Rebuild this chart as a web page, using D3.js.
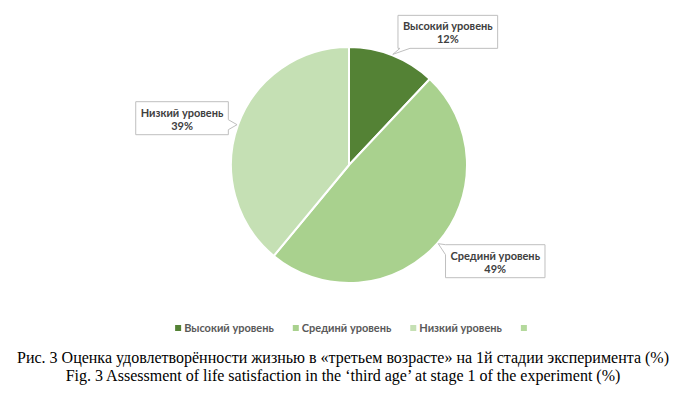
<!DOCTYPE html>
<meta charset="utf-8">
<script src="https://d3js.org/d3.v7.min.js"></script>
<style>
  body { margin: 0; background: #fff; }
</style>
<div id="chart"></div>
<script>

// data
var categories = ["Высокий уровень", "Срединй уровень", "Низкий уровень", ""];
var values = [12, 49, 39, 0];
var colors = ["#548235", "#A9D18E", "#C5E0B4", "#B4D99C"];
var captionLines = [
  "Рис. 3 Оценка удовлетворённости жизнью в «третьем возрасте» на 1й стадии эксперимента (%)",
  "Fig. 3 Assessment of life satisfaction in the \u2018third age\u2019 at stage 1 of the experiment (%)"
];

// label box offsets from the slice edge (layout only)
var labelOffsets = [[55, -22], [57, 18], [-55, -6]];

var width = 680, height = 397;
var cx = 349, cy = 165, radius = 118;

var svg = d3.select("#chart").append("svg")
  .attr("width", width)
  .attr("height", height);

var pieData = d3.pie().sort(null).value(function(d) { return d.value; })(
  categories.map(function(c, i) { return {name: c, value: values[i], color: colors[i]}; })
);

var arc = d3.arc().innerRadius(0).outerRadius(radius);

var g = svg.append("g").attr("transform", "translate(" + cx + "," + cy + ")");

g.selectAll("path.slice")
  .data(pieData.filter(function(d) { return d.data.value > 0; }))
  .enter()
  .append("path")
    .attr("class", "slice")
    .attr("d", arc)
    .attr("fill", function(d) { return d.data.color; })
    .attr("stroke", "#fff")
    .attr("stroke-width", 2)
    .attr("stroke-linejoin", "round");

// callout shape: rectangle with a pointer to the tip
function calloutPath(x0, y0, x1, y1, tx, ty) {
  var dl = x0 - tx, dr = tx - x1, dt = y0 - ty, db = ty - y1;
  var m = Math.max(dl, dr, dt, db);
  var p = [];
  var w = 10;
  if (m === db) {
    var bx = Math.max(x0 + 2, Math.min(tx, x1 - w - 2));
    p = [[x0, y0], [x1, y0], [x1, y1], [bx + w, y1], [tx, ty], [bx, y1], [x0, y1]];
  } else if (m === dt) {
    var bx2 = Math.max(x0 + 2, Math.min(tx, x1 - w - 2));
    p = [[x0, y0], [bx2, y0], [tx, ty], [bx2 + w, y0], [x1, y0], [x1, y1], [x0, y1]];
  } else if (m === dr) {
    var by = Math.max(y0 + 2, Math.min(ty - w / 2, y1 - w - 2));
    p = [[x0, y0], [x1, y0], [x1, by], [tx, ty], [x1, by + w], [x1, y1], [x0, y1]];
  } else {
    var by2 = Math.max(y0, Math.min(ty, y1 - w));
    p = [[x0, y0], [x1, y0], [x1, y1], [x0, y1], [x0, by2 + w], [tx, ty], [x0, by2]];
  }
  return "M" + p.map(function(q) { return q.join(","); }).join("L") + "Z";
}

// data labels
var labels = svg.append("g").attr("class", "labels");
pieData.filter(function(d) { return d.data.value > 0; }).forEach(function(d, i) {
  var a = (d.startAngle + d.endAngle) / 2;
  var tx = cx + (radius + 1) * Math.sin(a);
  var ty = cy - (radius + 1) * Math.cos(a);
  var bxc = tx + labelOffsets[i][0];
  var byc = ty + labelOffsets[i][1];

  var lg = labels.append("g");
  var path = lg.append("path");
  var t1 = lg.append("text")
    .attr("x", bxc).attr("y", byc - 2)
    .attr("text-anchor", "middle")
    .style("font-family", "Lato, 'Noto Sans', sans-serif")
    .style("font-weight", "bold")
    .style("font-size", "11px")
    .style("fill", "#404040")
    .text(d.data.name);
  lg.append("text")
    .attr("x", bxc).attr("y", byc + 11)
    .attr("text-anchor", "middle")
    .style("font-family", "Lato, 'Noto Sans', sans-serif")
    .style("font-weight", "bold")
    .style("font-size", "11px")
    .style("fill", "#404040")
    .text(d.data.value + "%");

  var tw = t1.node().getComputedTextLength();
  var bw = tw + 10, bh = 33;
  var x0 = bxc - bw / 2, y0 = byc - bh / 2 - 0.5;
  path.attr("d", calloutPath(x0, y0, x0 + bw, y0 + bh, tx, ty))
    .attr("fill", "#fff")
    .attr("stroke", "#BFBFBF")
    .attr("stroke-width", 1);
});

// legend
var legend = svg.append("g").attr("class", "legend");
var lx = 0;
categories.forEach(function(c, i) {
  var item = legend.append("g");
  item.append("rect")
    .attr("x", 0).attr("y", -7)
    .attr("width", 6).attr("height", 6)
    .attr("fill", colors[i]);
  var t = item.append("text")
    .attr("x", 9).attr("y", 0)
    .style("font-family", "Lato, 'Noto Sans', sans-serif")
    .style("font-weight", "bold")
    .style("font-size", "11px")
    .style("fill", "#595959")
    .text(c);
  item.attr("transform", "translate(" + lx + ",0)");
  var w = (c ? 9 + t.node().getComputedTextLength() : 6);
  lx += w + 19;
});
var legendWidth = lx - 19;
legend.attr("transform", "translate(" + (351 - legendWidth / 2) + ",332)");

// caption
svg.selectAll("text.caption")
  .data(captionLines)
  .enter()
  .append("text")
    .attr("class", "caption")
    .attr("x", 343)
    .attr("y", function(d, i) { return 363 + i * 18; })
    .attr("text-anchor", "middle")
    .style("font-family", "'Liberation Serif', 'Times New Roman', serif")
    .style("font-size", "16px")
    .style("fill", "#000")
    .text(function(d) { return d; });

</script>
